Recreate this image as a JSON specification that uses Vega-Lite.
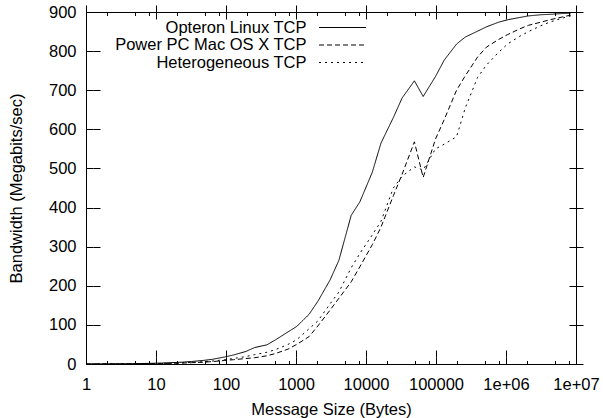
{
  "$schema": "https://vega.github.io/schema/vega-lite/v6.json",
  "width": 490,
  "height": 352,
  "autosize": {"type": "none"},
  "padding": {"left": 86, "top": 12, "right": 27, "bottom": 54},
  "background": "white",
  "config": {
    "font": "Liberation Sans",
    "view": {"stroke": "black", "strokeWidth": 1},
    "axis": {
      "domain": false, "grid": false, "ticks": true, "tickColor": "black", "tickWidth": 1, "tickOpacity": 1,
      "tickSize": 7, "offset": -7, "zindex": 2, "gridColor": "black", "gridWidth": 1, "gridOpacity": 1,
      "labelFont": "Liberation Sans", "labelFontSize": 16.5, "labelColor": "black",
      "titleFont": "Liberation Sans", "titleFontSize": 16.5, "titleFontWeight": "normal", "titleColor": "black"
    },
    "legend": {
      "orient": "none", "legendX": 248, "legendY": 7, "title": null, "labelAlign": "right",
      "labelOffset": -44.5, "symbolType": "M-3,0H3", "symbolSize": 245, "symbolStrokeWidth": 1, "labelFontSize": 16.5,
      "labelFont": "Liberation Sans", "labelColor": "black", "rowPadding": 0.5, "padding": 0,
      "labelLimit": 400, "symbolStrokeColor": "black", "symbolFillColor": "transparent"
    }
  },
  "datasets": {
    "bw": [
      {"size":1,"series":"Opteron Linux TCP","bw":0.2},{"size":2,"series":"Opteron Linux TCP","bw":0.4},{"size":3,"series":"Opteron Linux TCP","bw":0.6},{"size":4,"series":"Opteron Linux TCP","bw":0.8},{"size":6,"series":"Opteron Linux TCP","bw":1.2},{"size":8,"series":"Opteron Linux TCP","bw":1.6},{"size":12,"series":"Opteron Linux TCP","bw":2.4},{"size":16,"series":"Opteron Linux TCP","bw":3.2},{"size":24,"series":"Opteron Linux TCP","bw":4.8},{"size":32,"series":"Opteron Linux TCP","bw":6.3},{"size":48,"series":"Opteron Linux TCP","bw":9.3},{"size":64,"series":"Opteron Linux TCP","bw":12},{"size":96,"series":"Opteron Linux TCP","bw":18},{"size":128,"series":"Opteron Linux TCP","bw":23},{"size":192,"series":"Opteron Linux TCP","bw":32},{"size":256,"series":"Opteron Linux TCP","bw":42},{"size":384,"series":"Opteron Linux TCP","bw":49},{"size":512,"series":"Opteron Linux TCP","bw":62},{"size":768,"series":"Opteron Linux TCP","bw":82},{"size":1024,"series":"Opteron Linux TCP","bw":96},{"size":1536,"series":"Opteron Linux TCP","bw":127},{"size":2048,"series":"Opteron Linux TCP","bw":160},{"size":3072,"series":"Opteron Linux TCP","bw":215},{"size":4096,"series":"Opteron Linux TCP","bw":265},{"size":6144,"series":"Opteron Linux TCP","bw":380},{"size":8192,"series":"Opteron Linux TCP","bw":415},{"size":12288,"series":"Opteron Linux TCP","bw":490},{"size":16384,"series":"Opteron Linux TCP","bw":565},{"size":24576,"series":"Opteron Linux TCP","bw":630},{"size":32768,"series":"Opteron Linux TCP","bw":680},{"size":49152,"series":"Opteron Linux TCP","bw":724},{"size":65536,"series":"Opteron Linux TCP","bw":684},{"size":98304,"series":"Opteron Linux TCP","bw":735},{"size":131072,"series":"Opteron Linux TCP","bw":777},{"size":196608,"series":"Opteron Linux TCP","bw":818},{"size":262144,"series":"Opteron Linux TCP","bw":836},{"size":393216,"series":"Opteron Linux TCP","bw":851},{"size":524288,"series":"Opteron Linux TCP","bw":862},{"size":786432,"series":"Opteron Linux TCP","bw":874},{"size":1048576,"series":"Opteron Linux TCP","bw":880},{"size":1572864,"series":"Opteron Linux TCP","bw":886},{"size":2097152,"series":"Opteron Linux TCP","bw":890},{"size":3145728,"series":"Opteron Linux TCP","bw":893},{"size":4194304,"series":"Opteron Linux TCP","bw":894},{"size":6291456,"series":"Opteron Linux TCP","bw":896},{"size":8388608,"series":"Opteron Linux TCP","bw":897},
      {"size":1,"series":"Power PC Mac OS X TCP","bw":0.1},{"size":2,"series":"Power PC Mac OS X TCP","bw":0.2},{"size":3,"series":"Power PC Mac OS X TCP","bw":0.3},{"size":4,"series":"Power PC Mac OS X TCP","bw":0.4},{"size":6,"series":"Power PC Mac OS X TCP","bw":0.6},{"size":8,"series":"Power PC Mac OS X TCP","bw":0.8},{"size":12,"series":"Power PC Mac OS X TCP","bw":1.2},{"size":16,"series":"Power PC Mac OS X TCP","bw":1.6},{"size":24,"series":"Power PC Mac OS X TCP","bw":2.4},{"size":32,"series":"Power PC Mac OS X TCP","bw":3.2},{"size":48,"series":"Power PC Mac OS X TCP","bw":4.7},{"size":64,"series":"Power PC Mac OS X TCP","bw":6.2},{"size":96,"series":"Power PC Mac OS X TCP","bw":9},{"size":128,"series":"Power PC Mac OS X TCP","bw":11},{"size":192,"series":"Power PC Mac OS X TCP","bw":14},{"size":256,"series":"Power PC Mac OS X TCP","bw":16},{"size":384,"series":"Power PC Mac OS X TCP","bw":21},{"size":512,"series":"Power PC Mac OS X TCP","bw":27},{"size":768,"series":"Power PC Mac OS X TCP","bw":38},{"size":1024,"series":"Power PC Mac OS X TCP","bw":50},{"size":1536,"series":"Power PC Mac OS X TCP","bw":70},{"size":2048,"series":"Power PC Mac OS X TCP","bw":97},{"size":3072,"series":"Power PC Mac OS X TCP","bw":138},{"size":4096,"series":"Power PC Mac OS X TCP","bw":168},{"size":6144,"series":"Power PC Mac OS X TCP","bw":210},{"size":8192,"series":"Power PC Mac OS X TCP","bw":249},{"size":12288,"series":"Power PC Mac OS X TCP","bw":305},{"size":16384,"series":"Power PC Mac OS X TCP","bw":350},{"size":24576,"series":"Power PC Mac OS X TCP","bw":430},{"size":32768,"series":"Power PC Mac OS X TCP","bw":485},{"size":49152,"series":"Power PC Mac OS X TCP","bw":568},{"size":65536,"series":"Power PC Mac OS X TCP","bw":477},{"size":98304,"series":"Power PC Mac OS X TCP","bw":575},{"size":131072,"series":"Power PC Mac OS X TCP","bw":625},{"size":196608,"series":"Power PC Mac OS X TCP","bw":700},{"size":262144,"series":"Power PC Mac OS X TCP","bw":737},{"size":393216,"series":"Power PC Mac OS X TCP","bw":785},{"size":524288,"series":"Power PC Mac OS X TCP","bw":810},{"size":786432,"series":"Power PC Mac OS X TCP","bw":830},{"size":1048576,"series":"Power PC Mac OS X TCP","bw":842},{"size":1572864,"series":"Power PC Mac OS X TCP","bw":857},{"size":2097152,"series":"Power PC Mac OS X TCP","bw":866},{"size":3145728,"series":"Power PC Mac OS X TCP","bw":874},{"size":4194304,"series":"Power PC Mac OS X TCP","bw":880},{"size":6291456,"series":"Power PC Mac OS X TCP","bw":887},{"size":8388608,"series":"Power PC Mac OS X TCP","bw":892},
      {"size":1,"series":"Heterogeneous TCP","bw":0.12},{"size":2,"series":"Heterogeneous TCP","bw":0.25},{"size":3,"series":"Heterogeneous TCP","bw":0.37},{"size":4,"series":"Heterogeneous TCP","bw":0.5},{"size":6,"series":"Heterogeneous TCP","bw":0.74},{"size":8,"series":"Heterogeneous TCP","bw":1},{"size":12,"series":"Heterogeneous TCP","bw":1.5},{"size":16,"series":"Heterogeneous TCP","bw":2},{"size":24,"series":"Heterogeneous TCP","bw":3},{"size":32,"series":"Heterogeneous TCP","bw":4},{"size":48,"series":"Heterogeneous TCP","bw":5.8},{"size":64,"series":"Heterogeneous TCP","bw":7.6},{"size":96,"series":"Heterogeneous TCP","bw":11},{"size":128,"series":"Heterogeneous TCP","bw":14},{"size":192,"series":"Heterogeneous TCP","bw":19},{"size":256,"series":"Heterogeneous TCP","bw":24},{"size":384,"series":"Heterogeneous TCP","bw":30},{"size":512,"series":"Heterogeneous TCP","bw":37},{"size":768,"series":"Heterogeneous TCP","bw":50},{"size":1024,"series":"Heterogeneous TCP","bw":62},{"size":1536,"series":"Heterogeneous TCP","bw":90},{"size":2048,"series":"Heterogeneous TCP","bw":110},{"size":3072,"series":"Heterogeneous TCP","bw":154},{"size":4096,"series":"Heterogeneous TCP","bw":184},{"size":6144,"series":"Heterogeneous TCP","bw":246},{"size":8192,"series":"Heterogeneous TCP","bw":283},{"size":12288,"series":"Heterogeneous TCP","bw":330},{"size":16384,"series":"Heterogeneous TCP","bw":365},{"size":24576,"series":"Heterogeneous TCP","bw":450},{"size":32768,"series":"Heterogeneous TCP","bw":480},{"size":49152,"series":"Heterogeneous TCP","bw":504},{"size":65536,"series":"Heterogeneous TCP","bw":496},{"size":98304,"series":"Heterogeneous TCP","bw":550},{"size":131072,"series":"Heterogeneous TCP","bw":562},{"size":196608,"series":"Heterogeneous TCP","bw":581},{"size":262144,"series":"Heterogeneous TCP","bw":655},{"size":393216,"series":"Heterogeneous TCP","bw":733},{"size":524288,"series":"Heterogeneous TCP","bw":764},{"size":786432,"series":"Heterogeneous TCP","bw":797},{"size":1048576,"series":"Heterogeneous TCP","bw":818},{"size":1572864,"series":"Heterogeneous TCP","bw":838},{"size":2097152,"series":"Heterogeneous TCP","bw":850},{"size":3145728,"series":"Heterogeneous TCP","bw":865},{"size":4194304,"series":"Heterogeneous TCP","bw":874},{"size":6291456,"series":"Heterogeneous TCP","bw":884},{"size":8388608,"series":"Heterogeneous TCP","bw":890}
    ]
  },
  "data": {"name": "bw"},
  "resolve": {"axis": {"x": "independent", "y": "independent"}},
  "layer": [
    {
      "mark": {"type": "line", "color": "black", "strokeWidth": 1},
      "encoding": {
        "x": {"field": "size", "type": "quantitative",
          "scale": {"type": "log", "domain": [1, 10000000], "nice": false},
          "axis": {"orient": "bottom", "values": [1,10,100,1000,10000,100000,1000000,10000000], "format": "d",
            "grid": true, "gridDash": [7, 338, 7],
            "labelExpr": "datum.value >= 10000000 ? '1e+07' : (datum.value >= 1000000 ? '1e+06' : datum.label)",
            "labelPadding": 12, "labelFlush": false, "title": "Message Size (Bytes)", "titlePadding": 9}},
        "y": {"field": "bw", "type": "quantitative",
          "scale": {"domain": [0, 900], "nice": false, "zero": true},
          "axis": {"orient": "left", "values": [0,100,200,300,400,500,600,700,800,900], "labelPadding": 10,
            "grid": true, "gridDash": [7, 476, 7],
            "title": "Bandwidth (Megabits/sec)", "titlePadding": 24}},
        "strokeDash": {"field": "series", "type": "nominal",
          "scale": {"domain": ["Opteron Linux TCP", "Power PC Mac OS X TCP", "Heterogeneous TCP"],
            "range": [[1, 0], [5, 3], [2, 4]]}}
      }
    },
    {
      "mark": {"type": "line", "opacity": 0},
      "encoding": {
        "x": {"field": "size", "type": "quantitative",
          "axis": {"orient": "top", "values": [1,10,100,1000,10000,100000,1000000,10000000], "labels": false, "title": null}},
        "y": {"field": "bw", "type": "quantitative",
          "axis": {"orient": "right", "values": [0,100,200,300,400,500,600,700,800,900], "labels": false, "title": null}},
        "detail": {"field": "series"}
      }
    },
    {
      "mark": {"type": "line", "opacity": 0},
      "encoding": {
        "x": {"field": "size", "type": "quantitative",
          "axis": {"orient": "bottom", "tickSize": 3.5, "offset": -3.5, "labels": false, "title": null,
            "grid": true, "gridDash": [3.5, 345, 3.5],
            "values": [2,5,8,20,50,80,200,500,800,2000,5000,8000,20000,50000,80000,200000,500000,800000,2000000,5000000,8000000]}},
        "y": {"field": "bw", "type": "quantitative", "axis": null},
        "detail": {"field": "series"}
      }
    },
    {
      "mark": {"type": "line", "opacity": 0},
      "encoding": {
        "x": {"field": "size", "type": "quantitative",
          "axis": {"orient": "top", "tickSize": 3.5, "offset": -3.5, "labels": false, "title": null,
            "values": [2,5,8,20,50,80,200,500,800,2000,5000,8000,20000,50000,80000,200000,500000,800000,2000000,5000000,8000000]}},
        "y": {"field": "bw", "type": "quantitative", "axis": null},
        "detail": {"field": "series"}
      }
    }
  ]
}
